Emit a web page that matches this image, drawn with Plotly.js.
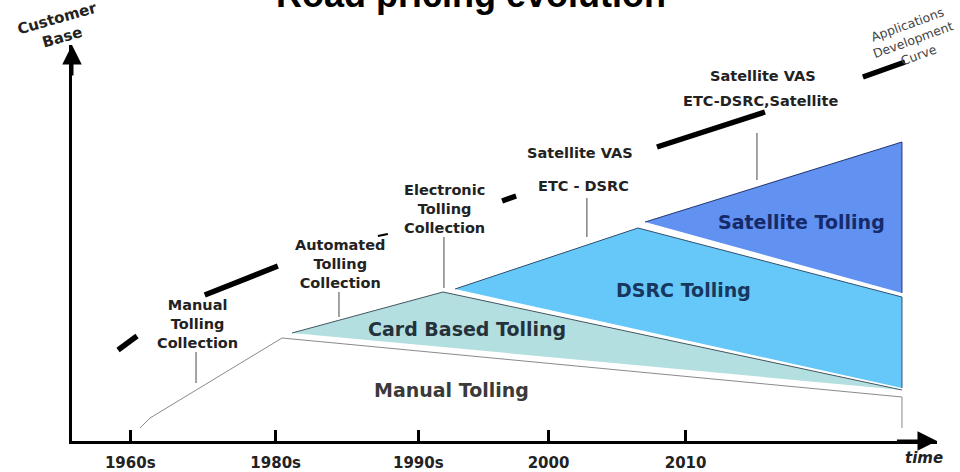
<!DOCTYPE html>
<html>
<head>
<meta charset="utf-8">
<script src="https://cdn.plot.ly/plotly-3.0.1.min.js"></script>
<style>
  html, body { margin: 0; padding: 0; background: #ffffff; }
  #chart { width: 960px; height: 472px; }
</style>
</head>
<body>
<div id="chart"></div>
<script>
// ---------------- DATA ----------------
// time axis: one unit per tick period (tick marks sit slightly unevenly in the drawing)
const tickLabels = ['1960s', '1980s', '1990s', '2000', '2010'];
const tickPos = [-0.03, 1.02, 2.05, 2.99, 3.98];

// customer base (0..100 scale) for each tolling technology wedge
const manualX = [0.04, 0.113, 1.066, 5.542, 5.542];
const manualY = [3.25, 5.75, 25.75, 11.0, 3.25];
const cardX = [1.138, 2.228, 5.542];
const cardY = [27.0, 37.25, 12.75];
const dsrcX = [2.315, 3.636, 5.542, 5.542];
const dsrcY = [38.0, 53.25, 36.0, 13.25];
const satX = [3.687, 5.542, 5.542];
const satY = [54.75, 74.75, 37.0];

// applications development curve (dashed, thick segments)
const curveX = [-0.118, 0.019, null, 0.508, 1.036, null, 2.655, 2.756, null, 3.773, 4.553, null, 5.260, 5.564];
const curveY = [22.75, 26.25, null, 36.5, 43.75, null, 60.0, 61.25, null, 73.5, 82.25, null, 91.0, 94.75];
const curveThinX = [1.758, 1.830];
const curveThinY = [51.25, 51.75];

// names
const regionNames = ['Manual Tolling', 'Card Based Tolling', 'DSRC Tolling', 'Satellite Tolling'];
const milestoneNames = [
  'Manual<br>Tolling<br>Collection',
  'Automated<br>Tolling<br>Collection',
  'Electronic<br>Tolling<br>Collection',
  'Satellite VAS',
  'ETC - DSRC',
  'Satellite VAS',
  'ETC-DSRC,Satellite'
];
const titleText = 'Road pricing evolution';
const yAxisName = 'Customer<br>Base';
const xAxisName = 'time';
const curveName = 'Applications<br>Development<br>Curve';

// ---------------- LAYOUT / STYLE ----------------
const FONT = 'DejaVu Sans, Verdana, sans-serif';
const XR = [-0.4505, 5.795];
const YR = [0, 99];

const regionStyle = [
  {fill: '#ffffff', line: '#8a8a8a', text: '#3a3a3a', pos: [2.286, 12.75]},
  {fill: '#b4dfe0', line: '#44555f', text: '#25323c', pos: [2.40, 28.0]},
  {fill: '#66c8f8', line: '#2f4f6e', text: '#18375e', pos: [3.968, 37.75]},
  {fill: '#6191f1', line: '#23366e', text: '#152a6a', pos: [4.82, 54.75]}
];
const milestonePos = [
  [0.452, 29.25], [1.484, 44.25], [2.236, 58.0],
  [3.217, 72.0], [3.246, 63.75], [4.539, 91.25], [4.524, 85.0]
];
const leaders = [
  [0.445, 22.25, 14.5], [1.477, 37.25, 31.0], [2.235, 51.0, 38.25],
  [3.267, 60.75, 51.0], [4.495, 77.0, 65.25]
];

const polys = [[manualX, manualY], [cardX, cardY], [dsrcX, dsrcY], [satX, satY]];
const traces = polys.map((p, i) => ({
  type: 'scatter', mode: 'lines', x: p[0], y: p[1], fill: 'toself',
  fillcolor: regionStyle[i].fill, line: {color: regionStyle[i].line, width: 1},
  name: regionNames[i], hoverinfo: 'skip'
}));
traces.push({
  type: 'scatter', mode: 'lines', x: curveX, y: curveY,
  line: {color: '#000000', width: 5.5}, hoverinfo: 'skip', name: 'curve'
});
traces.push({
  type: 'scatter', mode: 'lines', x: curveThinX, y: curveThinY,
  line: {color: '#000000', width: 2}, hoverinfo: 'skip', name: 'curve2'
});

const annotations = [];
// region labels
regionNames.forEach((n, i) => {
  annotations.push({
    x: regionStyle[i].pos[0], y: regionStyle[i].pos[1], xref: 'x', yref: 'y',
    text: n, showarrow: false,
    font: {family: FONT, size: 19, color: regionStyle[i].text, weight: 'bold'}
  });
});
// milestone labels
milestoneNames.forEach((t, i) => {
  annotations.push({
    x: milestonePos[i][0], y: milestonePos[i][1], xref: 'x', yref: 'y',
    text: t, showarrow: false, align: 'center',
    font: {family: FONT, size: 14.5, color: '#222222', weight: 'bold'}
  });
});
// axis arrowheads
annotations.push({
  x: XR[1], y: 0, ax: XR[1] - 0.3, ay: 0, xref: 'x', yref: 'y', axref: 'x', ayref: 'y',
  text: '', showarrow: true, arrowhead: 2, arrowsize: 1.3, arrowwidth: 3, arrowcolor: '#000'
});
annotations.push({
  x: XR[0], y: YR[1], ax: XR[0], ay: YR[1] - 8, xref: 'x', yref: 'y', axref: 'x', ayref: 'y',
  text: '', showarrow: true, arrowhead: 2, arrowsize: 1.3, arrowwidth: 3, arrowcolor: '#000'
});
// paper coords: px = 72 + 865*xp ; py = 441 - 396*yp
function px2paperX(px) { return (px - 72) / 865; }
function py2paperY(py) { return (441 - py) / 396; }
annotations.push({
  x: px2paperX(924), y: py2paperY(458), xref: 'paper', yref: 'paper', xanchor: 'center', yanchor: 'middle',
  text: xAxisName, showarrow: false,
  font: {family: FONT, size: 15, color: '#222', weight: 'bold', style: 'italic'}
});
annotations.push({
  x: px2paperX(60), y: py2paperY(28), xref: 'paper', yref: 'paper', xanchor: 'center', yanchor: 'middle',
  text: yAxisName, showarrow: false,
  textangle: -16, font: {family: FONT, size: 15, color: '#222', weight: 'bold'}
});
annotations.push({
  x: px2paperX(913), y: py2paperY(40), xref: 'paper', yref: 'paper', xanchor: 'center', yanchor: 'middle',
  text: curveName, showarrow: false,
  textangle: -20, font: {family: FONT, size: 12.5, color: '#444'}
});

const shapes = leaders.map(l => ({
  type: 'line', xref: 'x', yref: 'y', x0: l[0], x1: l[0], y0: l[1], y1: l[2],
  line: {color: '#666666', width: 1.2}
}));

const layout = {
  width: 960, height: 472,
  margin: {l: 72, r: 23, t: 45, b: 31},
  paper_bgcolor: '#ffffff', plot_bgcolor: '#ffffff',
  showlegend: false,
  title: {
    text: titleText, xref: 'container', yref: 'container', x: 471 / 960, xanchor: 'center',
    y: 1, yanchor: 'bottom', pad: {b: -7},
    font: {family: 'Liberation Sans, Arial, sans-serif', size: 36, color: '#000', weight: 'bold'}
  },
  xaxis: {
    range: XR, showgrid: false, zeroline: false, showline: true, linewidth: 3, linecolor: '#000',
    ticks: 'inside', ticklen: 11, tickwidth: 3, tickcolor: '#000',
    tickmode: 'array', tickvals: tickPos, ticktext: tickLabels, ticklabelstandoff: 6,
    tickfont: {family: FONT, size: 15, color: '#222', weight: 'bold'}, fixedrange: true
  },
  yaxis: {
    range: YR, showgrid: false, zeroline: false, showline: true, linewidth: 3, linecolor: '#000',
    ticks: '', showticklabels: false, fixedrange: true
  },
  annotations: annotations,
  shapes: shapes
};

Plotly.newPlot('chart', traces, layout, {displayModeBar: false, staticPlot: true});
</script>
</body>
</html>
